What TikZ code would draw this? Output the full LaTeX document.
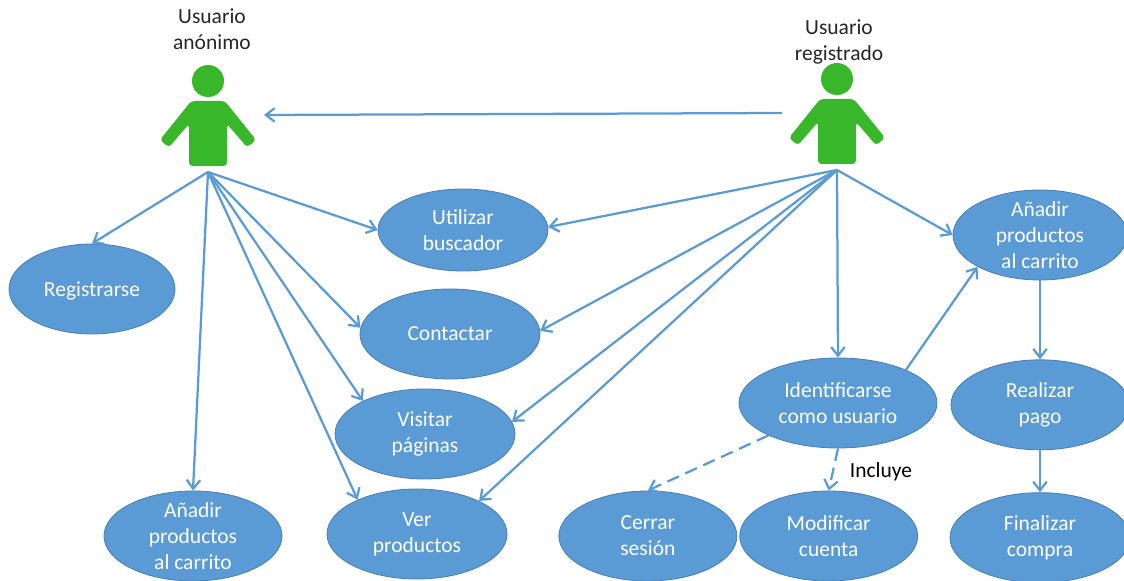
\documentclass[tikz,border=0pt]{standalone}
\usepackage{fontspec}
\setmainfont{Carlito}
\usetikzlibrary{arrows.meta,
	shapes.geometric,
	positioning
}
\definecolor{caseblue}{HTML}{5B9BD5}
\definecolor{caseedge}{HTML}{4A80B2}
\definecolor{actorgreen}{HTML}{37B729}
\definecolor{labelgray}{HTML}{262626}
\tikzset{
	usecase/.style={ellipse, draw=caseedge, fill=caseblue, semithick, text=white, align=center, inner xsep=0pt, inner ysep=-8pt, minimum width=#1, minimum height=2.25cm, font=\fontsize{15.3}{18.4}\selectfont},
	usecase/.default=4.5cm,
	lowtext/.style={execute at begin node={\rule{0pt}{13.5pt}}},
	actorlabel/.style={text=labelgray, align=center, font=\fontsize{15.3}{18.4}\selectfont},
	link/.style={draw=caseblue, line width=1.6pt},
	mydashed/.style={dash pattern=on 9pt off 5pt},
	actor/.pic={
		\fill[actorgreen] (0,0) circle (0.4);
		\fill[actorgreen, rounded corners=2.5pt] (-0.42,-0.5) -- (0.42,-0.5) -- (1.2,-1.47) -- (0.98,-1.66) -- (0.475,-1.075) -- (0.475,-2.125) -- (-0.475,-2.125) -- (-0.475,-1.075) -- (-0.98,-1.66) -- (-1.2,-1.47) -- cycle;
		\coordinate (-foot) at (0,-2.275);
		\coordinate (-west) at (-1.375,-0.85);
		\coordinate (-east) at (1.4,-0.85);
	},
}

\begin{document}
\begin{tikzpicture}[-{Straight Barb[length=2.2mm,width=3.4mm]}]

\useasboundingbox (0,0) rectangle (28.1,14.525);

% actors

\pic (anon) at (5.2,12.5) {actor};
\pic (reg) at (20.925,12.55) {actor};

\node[actorlabel] (lanon) at (5.3,13.8) {Usuario\\anónimo};
\node[actorlabel] (lreg) at (20.975,13.475) {Usuario\\registrado};

% graph

\node[usecase=4.25cm, minimum height=2.05cm] (nbuscador) at (11.575,8.775) {Utilizar\\buscador};
\node[usecase=4.15cm, lowtext] (nregistro) at (2.3,7.3) {Registrarse};
\node[usecase] (ncontacto) at (11.25,6.175) {Contactar};
\node[usecase] (nvisitar) at (10.625,3.675) {Visitar\\páginas};
\node[usecase] (nver) at (10.425,1.175) {Ver\\productos};
\node[usecase=4.45cm] (ncarritoa) at (4.825,1.125) {Añadir\\productos\\al carrito};

\node[usecase=4.95cm] (nident) at (20.95,4.45) {Identificarse\\como usuario};
\node[usecase=4.45cm, right=0cm of ncarritoa, xshift=6.9cm] (ncerrar) {Cerrar\\sesión};
\node[usecase=4.45cm, right=0.05cm of ncerrar] (nmodificar) {Modificar\\cuenta};

\node[usecase=4.35cm] (ncarritob) at (26,8.65) {Añadir\\productos\\al carrito};
\node[usecase=4.45cm, below=1.975cm of ncarritob] (npago) {Realizar\\pago};
\node[usecase=4.5cm, below=1.05cm of npago] (nfin) {Finalizar\\compra};

\node[text=black, font=\fontsize{15.3}{18.4}\selectfont] (lincluye) at (22.025,2.725) {Incluye};

% connections

\draw[link] (reg-west) -- (anon-east);

\draw[link] (anon-foot) -- (nregistro.north);
\draw[link] (anon-foot) -- (nbuscador.180);
\draw[link] (anon-foot) -- (ncontacto.176);
\draw[link] (anon-foot) -- (nvisitar.152);
\draw[link] (anon-foot) -- (nver.150);
\draw[link] (anon-foot) -- (ncarritoa.north);

\draw[link] (reg-foot) -- (nbuscador.2);
\draw[link] (reg-foot) -- (ncontacto.2);
\draw[link] (reg-foot) -- (nvisitar.8);
\draw[link] (reg-foot) -- (nver.28);
\draw[link] (reg-foot) -- (nident.north);
\draw[link] (reg-foot) -- (ncarritob.180);

\draw[link] (nident.26) -- (ncarritob.207);
\draw[link] (ncarritob) -- (npago);
\draw[link] (npago) -- (nfin);

\draw[link, mydashed] (nident.205) -- (ncerrar.north);
\draw[link, mydashed] (nident.south) -- (nmodificar.north);

\end{tikzpicture}
\end{document}
